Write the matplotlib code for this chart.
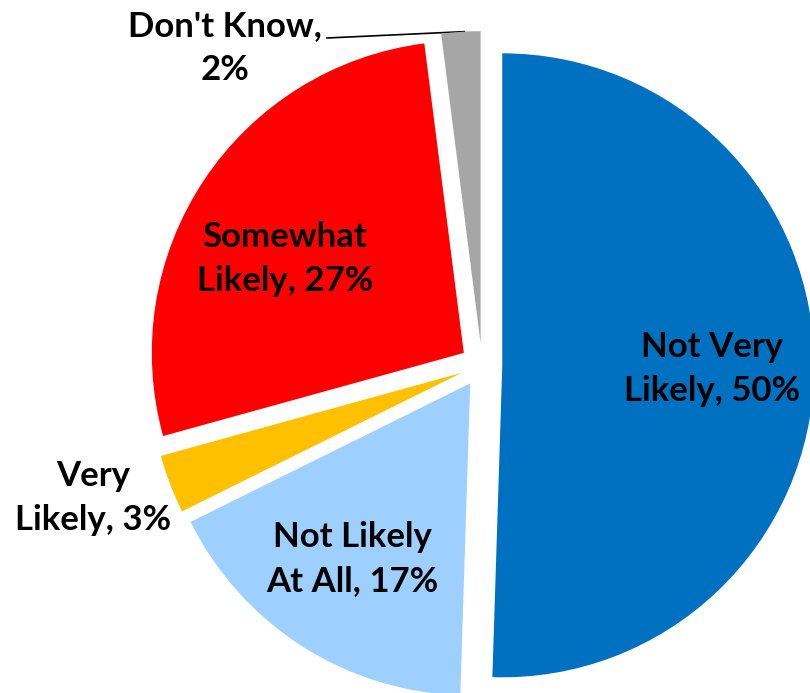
import numpy as np
import matplotlib
matplotlib.use("Agg")
import matplotlib.pyplot as plt

labels = ["Not Very\nLikely, 50%", "Not Likely\nAt All, 17%", "Very\nLikely, 3%",
          "Somewhat\nLikely, 27%", "Don't Know,\n2%"]
values = [50, 17, 3, 27, 2]
colors = ["#0070C0", "#9DCFFF", "#FFC000", "#FF0000", "#A6A6A6"]
explode = [0.065, 0.07, 0.07, 0.07, 0.07]

W, H = 810, 693
R = 312.0
cx, cy = 482.0, 365.0

def d(px, py):
    return (px - cx) / R, (cy - py) / R

fig = plt.figure(figsize=(W / 100, H / 100), dpi=100)
ax = fig.add_axes([0, 0, 1, 1])
wedges, _ = ax.pie(values, colors=colors, explode=explode, startangle=90,
                   counterclock=False, radius=1.0,
                   wedgeprops=dict(linewidth=0))
ax.set_aspect("auto")
x0, y0 = d(0, H)
x1, y1 = d(W, 0)
ax.set_xlim(x0, x1)
ax.set_ylim(y0, y1)
ax.axis("off")

font = dict(family=["Lato", "DejaVu Sans"], fontweight="bold", fontsize=25,
            ha="center", va="center", linespacing=1.48)

label_pos = [(712, 369), (352, 559), (93, 498), (285, 259), (225, 48)]
for lab, (px, py) in zip(labels, label_pos):
    tx, ty = d(px, py)
    ax.text(tx, ty, lab, color="black", **font)

# leader line for Don't Know
g = wedges[4]
ang = np.deg2rad(93.0)
ex = g.center[0] + g.r * np.cos(ang)
ey = g.center[1] + g.r * np.sin(ang)
sx, sy = d(327, 38)
ax.plot([sx, ex], [sy, ey], color="black", linewidth=1.2, zorder=0.5)

fig.savefig("out.png", dpi=100)
